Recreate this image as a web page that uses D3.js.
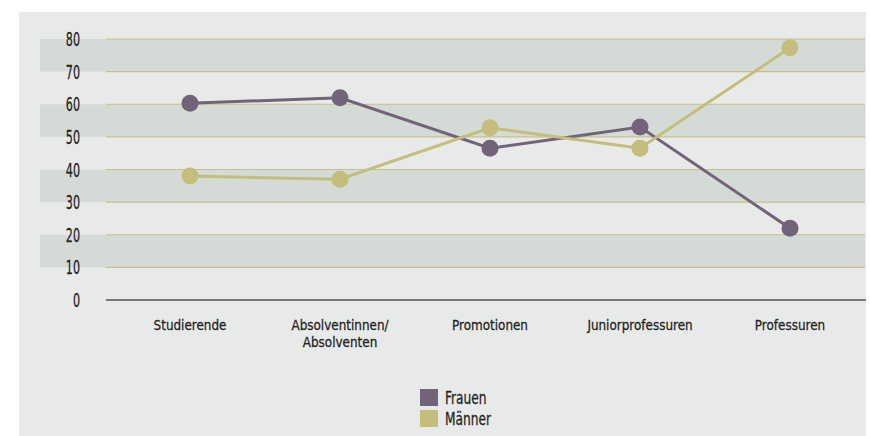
<!DOCTYPE html>
<html><head><meta charset="utf-8">
<script src="https://cdn.jsdelivr.net/npm/d3@7"></script>
<style>
html,body{margin:0;padding:0;background:#fff;}
svg text{font-family:"DejaVu Sans Condensed","DejaVu Sans",sans-serif;fill:#222;stroke:#222;stroke-width:0.25;}
</style></head>
<body>
<svg id="c" width="870" height="436"></svg>
<script>
const categories = ["Studierende", "Absolventinnen/\nAbsolventen", "Promotionen", "Juniorprofessuren", "Professuren"];
const frauen = [60.3, 62, 46.5, 53, 22];
const maenner = [38, 37, 52.8, 46.5, 77.3];
const yTicks = [0, 10, 20, 30, 40, 50, 60, 70, 80];
const seriesNames = ["Frauen", "Männer"];
const colors = ["#73637a", "#c4bd7b"];

const svg = d3.select("#c");
svg.append("rect").attr("x", 19).attr("y", 12).attr("width", 847).attr("height", 424).attr("fill", "#e8eae9");

const y = d3.scaleLinear().domain([0, 80]).range([300, 39]);
const x = d3.scalePoint().domain(categories).range([190, 790]);

function ctext(px, py, str, fs, sx, anchor) {
  const g = svg.append("g").attr("transform", `translate(${px},${py}) scale(${sx},1)`);
  return g.append("text").attr("x", 0).attr("y", 0).attr("font-size", fs)
    .attr("text-anchor", anchor || "start").text(str);
}

const bands = [[70, 80], [50, 60], [30, 40], [10, 20]];
svg.selectAll(".band").data(bands).enter().append("rect")
  .attr("x", 40).attr("width", 825)
  .attr("y", d => y(d[1])).attr("height", d => y(d[0]) - y(d[1]))
  .attr("fill", "#d4dbd7");

svg.selectAll(".grid").data(yTicks.filter(t => t > 0)).enter().append("line")
  .attr("x1", 106).attr("x2", 865)
  .attr("y1", d => y(d)).attr("y2", d => y(d))
  .attr("stroke", "#c8c187").attr("stroke-width", 1.2);

svg.append("line").attr("x1", 106).attr("x2", 866).attr("y1", y(0)).attr("y2", y(0))
  .attr("stroke", "#777").attr("stroke-width", 2);

yTicks.forEach(t => ctext(80, y(t) + 7, t, 20, 0.62, "end"));

categories.forEach(c => {
  c.split("\n").forEach((l, i) => ctext(x(c), 330 + i * 17, l, 14.5, 0.92, "middle"));
});

[frauen, maenner].forEach((vals, si) => {
  const data = categories.map((c, i) => ({c, v: vals[i]}));
  svg.append("path").datum(data)
    .attr("d", d3.line().x(d => x(d.c)).y(d => y(d.v)))
    .attr("fill", "none").attr("stroke", colors[si]).attr("stroke-width", 3);
  svg.selectAll(".p" + si).data(data).enter().append("circle")
    .attr("cx", d => x(d.c)).attr("cy", d => y(d.v)).attr("r", 8.5)
    .attr("fill", colors[si]);
});

seriesNames.forEach((n, i) => {
  svg.append("rect").attr("x", 420).attr("y", 389 + i * 21).attr("width", 18).attr("height", 17).attr("fill", colors[i]);
  ctext(445, 404 + i * 21, n, 17, 0.8, "start");
});
</script>
</body></html>
